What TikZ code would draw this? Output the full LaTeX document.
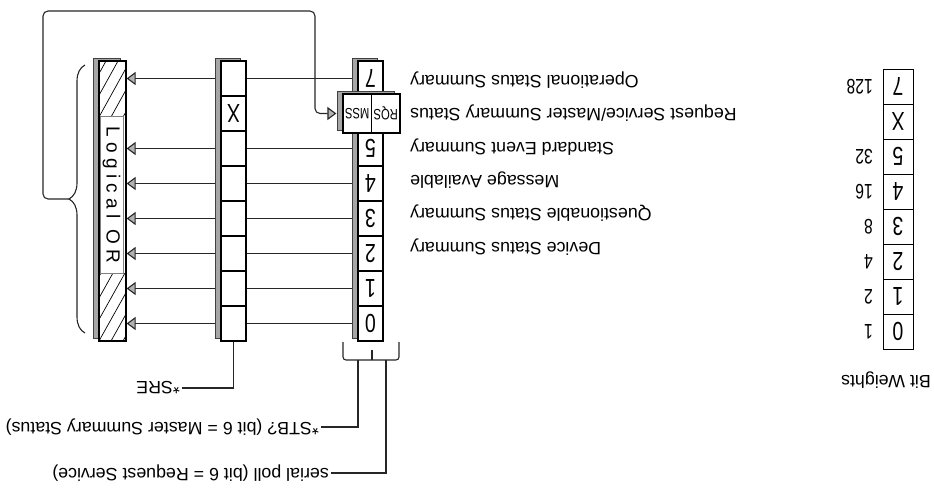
\documentclass[tikz,border=0pt]{standalone}
\usepackage{fontspec}
\setmainfont{Liberation Sans}
\newfontfamily\narrowfont[FakeStretch=0.75]{Liberation Sans}
\newfontfamily\spacedfont[LetterSpace=28]{Liberation Sans}
\usepackage{graphicx}
\usepackage{tikz}
\usetikzlibrary{arrows.meta}
\usetikzlibrary{backgrounds}
\usetikzlibrary{decorations.pathreplacing}
\usetikzlibrary{positioning}
\newcommand*{\rowH}{35}
\newcommand*{\yTop}{61}
\newcommand*{\upside}[1]{\rotatebox[origin=c]{180}{#1}}

\begin{document}
\begin{tikzpicture}[x=1pt,y=-1pt,
	cell/.style={rectangle,draw=black,line width=1.2pt,fill=white,minimum width=25pt,minimum height=35pt,inner sep=0pt,font=\narrowfont\fontsize{26}{26}\selectfont},
	wcell/.style={cell,line width=0.7pt,minimum width=30pt},
	shadowbox/.style={fill=gray!70,draw=black!75,line width=0.5pt},
	link/.style={draw=black!85,line width=1.1pt},
	feed/.style={link,-{Triangle[length=9pt,width=13pt,fill=gray!60]}},
	lbl/.style={inner sep=2pt,font=\fontsize{17.8}{18}\selectfont},
	hatch/.style={line width=0.7pt}]
	\useasboundingbox (0,0) rectangle (934,492);
	% status byte
	\fill[shadowbox] (352,58) rectangle (377,338);
	\foreach \b in {7,5,4,3,2,1,0}
		\node[cell] (s\b) at (370.5,{\yTop+\rowH/2+\rowH*(7-\b)}) {\upside{\b}};
	\fill[shadowbox] (337,91) rectangle (394,130);
	\node[cell,minimum width=28.5pt,minimum height=39pt,font=\narrowfont\fontsize{15}{15}\selectfont] (mss) at (357.25,113.5) {\upside{MSS}};
	\node[cell,minimum width=28.5pt,minimum height=39pt,font=\narrowfont\fontsize{15}{15}\selectfont] (rqs) at (385.75,113.5) {\upside{RQS}};
	% enable register
	\fill[shadowbox] (215,58) rectangle (240,338);
	\foreach \b in {7,6,...,0}
		\node[cell] (m\b) at (233.5,{\yTop+\rowH/2+\rowH*(7-\b)}) {\upside{\ifnum\b=6 X\fi}};
	% logical OR
	\fill[shadowbox] (93,58) rectangle (120,338);
	\node[cell,minimum width=27pt,minimum height=280pt] (orc) at (112.5,201) {};
	\begin{scope}
		\clip (99,61) rectangle (126,117);
		\foreach \k in {-3,...,2} \draw[hatch] ({99+12*\k},117) -- ++(31,-56);
	\end{scope}
	\begin{scope}
		\clip (99,273) rectangle (126,341);
		\foreach \k in {-4,...,2} \draw[hatch] ({99+12*\k},341) -- ++(38,-68);
	\end{scope}
	\draw[line width=1.2pt] (orc.south west) rectangle (orc.north east);
	\node[draw=gray,line width=1pt,fill=white,rotate=-90,minimum width=156pt,minimum height=23pt,inner sep=0pt,font=\spacedfont\fontsize{19}{19}\selectfont] (lor) at (111.5,195) {Logical OR};
	% bit weights
	\foreach \b in {7,6,...,0} {
		\node[wcell] (w\b) at (898,{69+\rowH/2+\rowH*(7-\b)}) {\upside{\ifnum\b=6 X\else\b\fi}};
		\pgfmathtruncatemacro{\w}{2^\b}
		\ifnum\b=6\else\node[lbl,anchor=east,font=\narrowfont\fontsize{21}{21}\selectfont] (wl\b) at (875,{69+\rowH/2+\rowH*(7-\b)}) {\upside{\w}};\fi
	}
	\node[lbl] (bw) at (886,380) {\upside{Bit Weights}};
	% bit names
	\node[lbl,anchor=west] (l7) at (408,80) {\upside{Operational Status Summary}};
	\node[lbl,anchor=west] (l6) at (408,113) {\upside{Request Service/Master Summary Status}};
	\node[lbl,anchor=west] (l5) at (408,147) {\upside{Standard Event Summary}};
	\node[lbl,anchor=west] (l4) at (408,180) {\upside{Message Available}};
	\node[lbl,anchor=west] (l3) at (408,213) {\upside{Questionable Status Summary}};
	\node[lbl,anchor=west] (l2) at (408,247) {\upside{Device Status Summary}};
	% readouts
	\node[lbl,anchor=east] (sre) at (182,388) {\upside{*SRE}};
	\node[lbl,anchor=east] (stb) at (321,427) {\upside{*STB? (bit 6 = Master Summary Status)}};
	\node[lbl,anchor=east] (spoll) at (331,473) {\upside{serial poll (bit 6 = Request Service)}};
	\begin{scope}[on background layer]
		\foreach \b in {7,5,4,3,2,1,0} {
			\draw[link] (s\b) -- (m\b);
			\draw[feed] (m\b) -- (m\b -| orc.east);
		}
	\end{scope}
	% summary loop
	\draw[link,decorate,decoration={brace,amplitude=16pt}] (85,333) -- (85,65);
	\coordinate (bt) at (69,199);
	\coordinate (lpA) at (43,11);
	\coordinate (lpB) at (315,113.5);
	\draw[feed,rounded corners=5pt,shorten >=6pt] (bt) -| (lpA) -| (lpB) -- (mss.west);
	\draw[link,rounded corners=3pt] (343,342) -- (343,360) -- (399,360) -- (399,342);
	\draw[link] (372,360) -- (372,350);
	\draw[link] (358,360) |- (stb.east);
	\draw[link] (386,360) |- (spoll.east);
	\draw[link] (m0.south) |- (sre.east);
\end{tikzpicture}
\end{document}
